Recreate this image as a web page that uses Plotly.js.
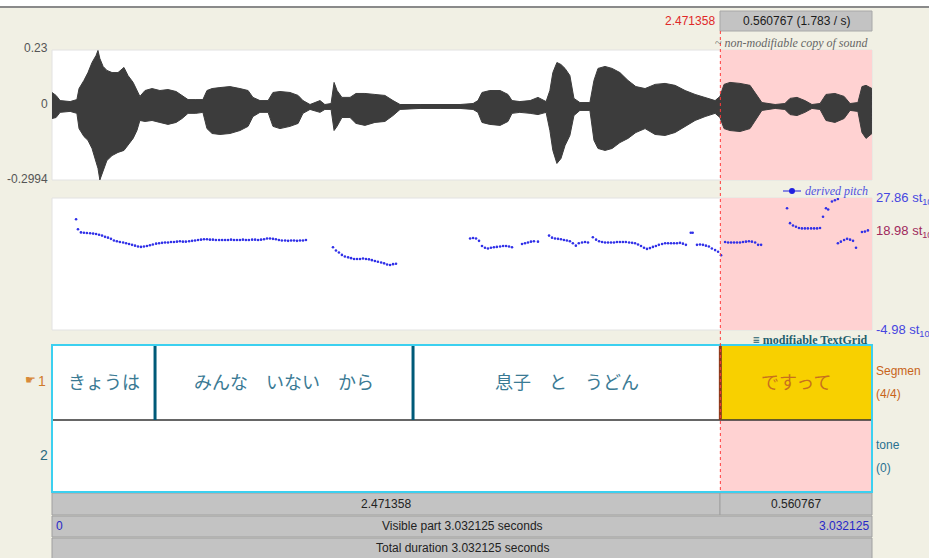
<!DOCTYPE html>
<html><head><meta charset="utf-8">
<script src="https://cdn.plot.ly/plotly-3.0.1.min.js"></script>
<style>html,body{margin:0;padding:0;background:#f1f0e4;overflow:hidden}#chart{width:929px;height:558px}</style>
</head><body><div id="chart"></div>
<script>
// ---------- data ----------
const totalDuration = 3.032125;
const selStart = 2.471358;
const selDur = 0.560767;
const waveTicks = ['0.23', '0', '-0.2994'];
const waveRange = [-0.2994, 0.23];
const pitchRange = [-4.98, 27.86];
const pitchTickVals = [27.86, 18.98, -4.98];
// waveform envelope: [time s, upper amplitude, lower amplitude]
const waveRows = [
[0,.057,-.049],[.015,.045,-.045],[.030,.024,-.024],[.067,.020,-.020],[.092,.028,-.028],[.100,.073,-.090],
[.118,.106,-.122],[.133,.138,-.138],[.148,.179,-.171],[.163,.208,-.220],[.170,.228,-.252],[.177,.195,-.299],
[.189,.163,-.261],[.203,.147,-.220],[.222,.138,-.200],[.244,.138,-.187],[.266,.159,-.179],[.281,.126,-.159],
[.300,.098,-.130],[.314,.065,-.098],[.325,.041,-.057],[.344,.065,-.061],[.370,.073,-.057],[.399,.065,-.065],
[.429,.069,-.073],[.459,.061,-.065],[.481,.045,-.049],[.503,.028,-.028],[.532,.028,-.028],[.558,.028,-.024],
[.573,.065,-.090],[.592,.073,-.110],[.621,.077,-.114],[.658,.081,-.110],[.695,.073,-.098],[.725,.065,-.081],
[.743,.037,-.041],[.769,.024,-.024],[.799,.024,-.024],[.817,.057,-.081],[.843,.061,-.090],[.880,.057,-.081],
[.910,.045,-.069],[.928,.024,-.028],[.954,.008,-.012],[.991,.024,-.024],[1.009,.008,-.012],[1.032,.012,-.012],
[1.043,.098,-.098],[1.054,.065,-.081],[1.072,.037,-.045],[1.102,.037,-.045],[1.124,.053,-.069],[1.157,.053,-.077],
[1.194,.049,-.065],[1.231,.045,-.061],[1.261,.024,-.037],[1.287,.008,-.012],[1.361,.008,-.008],[1.435,.008,-.008],
[1.509,.008,-.008],[1.557,.012,-.012],[1.575,.024,-.024],[1.590,.057,-.065],[1.619,.065,-.073],[1.657,.065,-.077],
[1.686,.049,-.061],[1.701,.024,-.028],[1.730,.020,-.024],[1.768,.024,-.028],[1.797,.037,-.033],[1.827,.020,-.024],
[1.841,.065,-.098],[1.852,.138,-.179],[1.867,.179,-.232],[1.882,.171,-.212],[1.897,.155,-.159],[1.915,.126,-.118],
[1.930,.033,-.037],[1.952,.016,-.016],[1.989,.016,-.016],[2.004,.106,-.138],[2.019,.155,-.171],[2.045,.163,-.179],
[2.071,.155,-.171],[2.100,.138,-.147],[2.130,.106,-.130],[2.159,.081,-.106],[2.193,.073,-.090],[2.230,.090,-.114],
[2.267,.094,-.118],[2.304,.086,-.106],[2.341,.065,-.081],[2.378,.049,-.057],[2.415,.037,-.041],[2.452,.024,-.028],
[2.470,.041,-.045],[2.485,.090,-.090],[2.507,.098,-.098],[2.544,.094,-.102],[2.581,.086,-.090],[2.607,.045,-.049],
[2.625,.016,-.016],[2.674,.008,-.008],[2.710,.012,-.012],[2.729,.033,-.033],[2.755,.037,-.037],[2.784,.024,-.024],
[2.810,.008,-.008],[2.840,.012,-.012],[2.862,.049,-.057],[2.895,.053,-.065],[2.929,.041,-.049],[2.951,.012,-.016],
[2.980,.016,-.020],[2.995,.081,-.106],[3.010,.086,-.130],[3.032,.073,-.110]
];
// derived pitch: [time s, semitones re 100 Hz]
const pitchPoints = [
[.089,22.56],[.096,20.1],[.107,19.3],[.118,19.2],[.129,19.15],[.141,19.1],[.152,19.0],[.163,18.9],[.174,18.7],
[.185,18.5],[.196,18.2],[.207,18.0],[.218,17.7],[.229,17.3],[.240,17.1],[.251,16.9],[.263,16.8],[.274,16.6],
[.285,16.4],[.296,16.2],[.307,16.0],[.318,15.8],[.329,15.7],[.340,15.8],[.351,15.9],[.362,16.1],[.373,16.3],
[.385,16.5],[.396,16.6],[.407,16.7],[.418,16.8],[.429,16.8],[.440,16.9],[.451,16.9],[.462,17.0],[.473,17.1],
[.484,17.0],[.495,17.0],[.507,17.1],[.518,17.2],[.529,17.3],[.540,17.4],[.551,17.5],[.562,17.6],[.573,17.6],
[.584,17.5],[.595,17.5],[.606,17.4],[.618,17.4],[.629,17.4],[.640,17.4],[.651,17.4],[.662,17.5],[.673,17.4],
[.684,17.4],[.695,17.4],[.706,17.5],[.717,17.4],[.728,17.4],[.740,17.5],[.751,17.5],[.762,17.4],[.773,17.5],
[.784,17.6],[.795,17.8],[.806,17.8],[.817,17.7],[.828,17.6],[.839,17.4],[.850,17.3],[.862,17.3],[.873,17.2],
[.884,17.3],[.895,17.3],[.906,17.2],[.917,17.3],[.928,17.3],[.939,17.4],
[1.039,15.6],[1.050,14.8],[1.061,14.3],[1.072,13.7],[1.083,13.3],[1.095,13.1],[1.106,12.9],[1.117,12.7],
[1.128,12.7],[1.139,12.7],[1.150,12.8],[1.161,12.7],[1.172,12.6],[1.183,12.4],[1.194,12.2],[1.205,12.0],
[1.217,11.8],[1.228,11.6],[1.239,11.3],[1.250,11.2],[1.261,11.4],[1.272,11.5],
[1.546,17.8],[1.557,17.9],[1.568,17.8],[1.579,17.2],[1.590,15.9],[1.601,15.5],[1.612,15.3],[1.623,15.5],
[1.634,15.6],[1.645,15.7],[1.657,15.8],[1.668,15.9],[1.679,15.9],[1.690,15.8],[1.701,15.6],
[1.738,16.4],[1.749,16.6],[1.760,16.8],[1.771,17.0],[1.782,17.1],[1.797,17.0],
[1.838,18.5],[1.849,18.0],[1.860,17.8],[1.871,17.7],[1.882,17.6],[1.893,17.4],[1.904,17.3],[1.915,17.1],
[1.926,16.6],[1.937,16.0],[1.948,16.6],[1.960,16.8],[1.971,16.9],[1.982,16.8],
[2.000,18.1],[2.012,17.5],[2.023,17.1],[2.034,16.9],[2.045,16.8],[2.056,16.8],[2.067,16.8],[2.078,16.8],
[2.089,16.9],[2.100,16.9],[2.111,16.9],[2.122,16.9],[2.134,16.8],[2.145,16.7],[2.156,16.6],[2.167,16.3],
[2.178,15.9],[2.189,15.5],[2.200,15.2],[2.211,15.4],[2.222,15.7],[2.233,15.9],[2.244,16.2],[2.256,16.4],
[2.267,16.6],[2.278,16.6],[2.289,16.6],[2.300,16.6],[2.311,16.6],[2.322,16.7],[2.333,16.5],[2.344,16.2],
[2.362,19.2],[2.369,19.2],[2.385,16.2],[2.396,16.3],[2.407,16.2],[2.418,16.0],[2.429,15.8],[2.440,15.3],
[2.452,14.9],[2.463,14.5],[2.474,13.6],
[2.489,16.9],[2.500,16.8],[2.511,16.8],[2.522,16.8],[2.533,16.8],[2.544,16.8],[2.555,16.9],[2.566,17.0],
[2.577,17.1],[2.588,17.0],[2.600,16.8],[2.611,16.2],[2.622,16.2],
[2.718,25.3],[2.729,21.6],[2.740,21.0],[2.751,20.7],[2.762,20.4],[2.773,20.3],[2.784,20.3],[2.795,20.3],
[2.807,20.3],[2.818,20.3],[2.829,20.3],[2.840,20.4],[2.851,23.2],[2.862,25.3],[2.870,25.0],[2.884,27.0],
[2.895,27.3],[2.906,27.6],[2.906,16.6],[2.917,17.0],[2.929,17.4],[2.940,17.7],[2.951,17.5],[2.962,17.2],
[2.973,15.5],[2.995,19.4],[3.006,19.5],[3.017,19.8]
];
// TextGrid tier 1 "Segmen"
const tierBoundaries = [0, 0.381, 1.335, 2.471358, 3.032125];
const tierLabels = ['きょうは', 'みんな　いない　から', '息子　と　うどん', 'ですって'];
const selectedInterval = 3;

// ---------- layout helpers ----------
const W = 929, H = 558;
const px = v => v / W, py = v => 1 - v / H;
const SANS = 'Liberation Sans, Arial, sans-serif';
const SERIF = 'Liberation Serif, Times New Roman, serif';
const CJK = 'Noto Sans CJK JP, sans-serif';
const annotations = [];
function ann(text, x, y, o = {}) {
  annotations.push(Object.assign({
    text, x: px(x), y: py(y), xref: 'paper', yref: 'paper', showarrow: false,
    xanchor: 'center', yanchor: 'middle',
    font: {family: SANS, size: 12, color: '#222'}
  }, o));
}
const shapes = [];
function rect(x0, y0, x1, y1, fill, line, lw, layer) {
  shapes.push({type: 'rect', xref: 'paper', yref: 'paper', x0: px(x0), x1: px(x1), y0: py(y1), y1: py(y0),
    fillcolor: fill, line: {color: line || 'rgba(0,0,0,0)', width: lw || 0}, layer: layer || 'below'});
}
function hline(x0, x1, y, color, w, layer) {
  shapes.push({type: 'line', xref: 'paper', yref: 'paper', x0: px(x0), x1: px(x1), y0: py(y), y1: py(y),
    line: {color, width: w}, layer: layer || 'above'});
}
function vlineT(t, y0, y1, color, w, dash, layer) {
  shapes.push({type: 'line', xref: 'x', yref: 'paper', x0: t, x1: t, y0: py(y0), y1: py(y1),
    line: {color, width: w, dash: dash || 'solid'}, layer: layer || 'above'});
}
function rectT(t0, t1, y0, y1, fill, layer) {
  shapes.push({type: 'rect', xref: 'x', yref: 'paper', x0: t0, x1: t1, y0: py(y1), y1: py(y0),
    fillcolor: fill, line: {width: 0}, layer: layer || 'below'});
}

// top frame line
rect(0, 0, 929, 6, '#ffffff');
hline(0, 929, 7, '#8a8a8a', 2, 'below');

// panels
rect(52, 50, 872, 180, '#ffffff', '#e2e2e2', 1);
rectT(selStart, totalDuration, 50, 180, '#ffd2d2');
rect(52, 198, 872, 330, '#ffffff', '#e2e2e2', 1);
rectT(selStart, totalDuration, 198, 330, '#ffd2d2');

// TextGrid
rect(52, 345, 872, 492, '#ffffff');
rectT(tierBoundaries[selectedInterval], tierBoundaries[selectedInterval + 1], 345, 420, '#f8d000');
rectT(selStart, totalDuration, 420, 492, '#ffd2d2');
hline(52, 872, 420, '#333333', 1.5);
for (let i = 1; i < tierBoundaries.length - 1; i++) {
  const sel = i === selectedInterval;
  vlineT(tierBoundaries[i], 345, 420, sel ? '#8a3a1a' : '#005a78', 3);
}
shapes.push({type: 'rect', xref: 'paper', yref: 'paper', x0: px(52), x1: px(872), y0: py(492), y1: py(345),
  line: {color: '#3cd0f0', width: 2}, layer: 'above'});

// header box
rect(720, 11, 872, 31, '#c3c3c3', '#a8a8a8', 1);
// bottom bars
rect(52, 493, 720, 515, '#c3c3c3', '#a0a0a0', 1);
rect(720, 493, 872, 515, '#c3c3c3', '#a0a0a0', 1);
rect(52, 516, 872, 537, '#c3c3c3', '#a0a0a0', 1);
rect(52, 538, 872, 560, '#c3c3c3', '#a0a0a0', 1);

// cursor line
vlineT(selStart, 31, 492, '#ff3b3b', 1, 'dot');

// derived pitch legend mark
hline(783, 801, 191, '#4040e0', 1.2);
shapes.push({type: 'circle', xref: 'paper', yref: 'paper', x0: px(789), x1: px(795), y0: py(194), y1: py(188),
  fillcolor: '#2020e0', line: {color: '#2020e0', width: 0}, layer: 'above'});

// ---------- text ----------
ann(selStart.toFixed(6), 717, 21, {xanchor: 'right', font: {family: SANS, size: 12, color: '#e02828'}});
ann(selDur.toFixed(6) + ' (' + (1 / selDur).toFixed(3) + ' / s)', 796, 21, {font: {family: SANS, size: 12, color: '#1a1a1a'}});
ann('~ <i>non-modifiable copy of sound</i>', 870, 43, {xanchor: 'right', font: {family: SERIF, size: 12, color: '#666'}});
ann(waveTicks[0], 50, 48, {xanchor: 'right', font: {family: SANS, size: 12, color: '#555'}});
ann(waveTicks[1], 50, 104, {xanchor: 'right', font: {family: SANS, size: 12, color: '#555'}});
ann(waveTicks[2], 50, 179, {xanchor: 'right', font: {family: SANS, size: 12, color: '#555'}});
ann('<i>derived pitch</i>', 870, 191, {xanchor: 'right', font: {family: SERIF, size: 12, color: '#5050e0'}});
const pitchColors = ['#4646e0', '#a0285c', '#4646e0'];
const pitchY = [198, 232, 330];
pitchTickVals.forEach((v, i) => {
  ann(v.toFixed(2) + ' st<sub>100</sub>', 874, pitchY[i], {xanchor: 'left', font: {family: SANS, size: 13, color: pitchColors[i]}});
});
ann('<b>≡ modifiable TextGrid</b>', 870, 340, {xanchor: 'right', font: {family: SERIF, size: 12, color: '#1f5f6e'}});
tierLabels.forEach((lab, i) => {
  const mid = (tierBoundaries[i] + tierBoundaries[i + 1]) / 2;
  annotations.push({text: lab, x: mid, xref: 'x', y: py(381), yref: 'paper', showarrow: false,
    xanchor: 'center', yanchor: 'middle',
    font: {family: CJK, size: 18, color: i === selectedInterval ? '#c8701e' : '#3a7a94'}});
});
ann('☛', 31, 380, {font: {family: 'DejaVu Sans, sans-serif', size: 12, color: '#d88a3a'}});
ann('1', 48, 381, {xanchor: 'right', font: {family: SANS, size: 14, color: '#d07a2a'}});
ann('2', 50, 455, {xanchor: 'right', font: {family: SANS, size: 14, color: '#2a6a80'}});
ann('Segmen', 874, 371, {xanchor: 'left', font: {family: SANS, size: 12, color: '#c8641a'}});
ann('(4/4)', 874, 394, {xanchor: 'left', font: {family: SANS, size: 12, color: '#c8641a'}});
ann('tone', 874, 445, {xanchor: 'left', font: {family: SANS, size: 12, color: '#2a7090'}});
ann('(0)', 874, 468, {xanchor: 'left', font: {family: SANS, size: 12, color: '#2a7090'}});
ann(selStart.toFixed(6), 386, 504);
ann(selDur.toFixed(6), 796, 504);
ann('0', 54, 526, {xanchor: 'left', font: {family: SANS, size: 12, color: '#2828c8'}});
ann('Visible part ' + totalDuration.toFixed(6) + ' seconds', 462, 526);
ann(totalDuration.toFixed(6), 871, 526, {xanchor: 'right', font: {family: SANS, size: 12, color: '#2828c8'}});
ann('Total duration ' + totalDuration.toFixed(6) + ' seconds', 462, 548);

// ---------- traces ----------
const wt = waveRows.map(r => r[0]);
const traces = [
  {x: wt, y: waveRows.map(r => r[2]), xaxis: 'x', yaxis: 'y', mode: 'lines', line: {color: '#3c3c3c', width: 1},
   hoverinfo: 'skip', showlegend: false},
  {x: wt, y: waveRows.map(r => r[1]), xaxis: 'x', yaxis: 'y', mode: 'lines', line: {color: '#3c3c3c', width: 1},
   fill: 'tonexty', fillcolor: '#3c3c3c', hoverinfo: 'skip', showlegend: false},
  {x: pitchPoints.map(p => p[0]), y: pitchPoints.map(p => p[1]), xaxis: 'x', yaxis: 'y2', mode: 'markers',
   marker: {color: '#3030e8', size: 2.6, line: {width: 0}}, hoverinfo: 'skip', showlegend: false}
];

const axBase = {showgrid: false, zeroline: false, showticklabels: false, ticks: '', showline: false, fixedrange: true};
const layout = {
  width: W, height: H, margin: {l: 0, r: 0, t: 0, b: 0, pad: 0},
  paper_bgcolor: '#f1f0e4', plot_bgcolor: 'rgba(0,0,0,0)', showlegend: false,
  xaxis: Object.assign({}, axBase, {domain: [px(52), px(872)], range: [0, totalDuration]}),
  yaxis: Object.assign({}, axBase, {domain: [py(180), py(50)], range: waveRange}),
  yaxis2: Object.assign({}, axBase, {domain: [py(330), py(198)], range: pitchRange, anchor: 'x'}),
  shapes, annotations
};
Plotly.newPlot('chart', traces, layout, {staticPlot: true, displayModeBar: false});
</script></body></html>
